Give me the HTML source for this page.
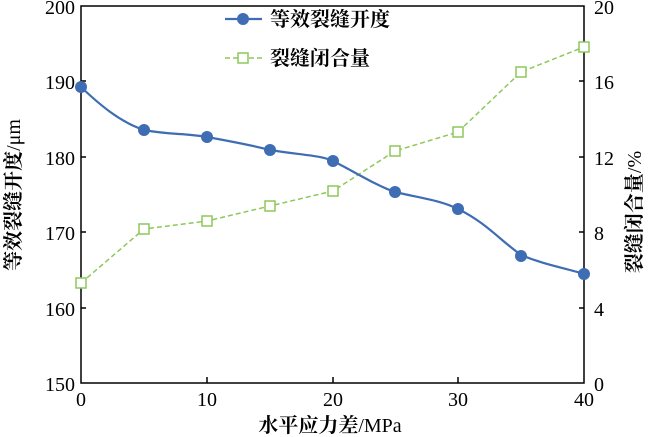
<!DOCTYPE html>
<html><head><meta charset="utf-8"><style>body{margin:0;background:#fff}svg{display:block}</style></head><body>
<svg width="650" height="437" xmlns="http://www.w3.org/2000/svg" font-family="Liberation Serif, Noto Serif CJK SC, serif">
<rect width="650" height="437" fill="#fff"/>
<g stroke="#000" stroke-width="1.5" fill="none">
<rect x="81" y="6" width="503" height="377"/>
<path d="M81,81h5M81,157h5M81,232h5M81,308h5"/>
<path d="M584,308h-5M584,232h-5M584,157h-5M584,81h-5"/>
<path d="M207,383v-6M333,383v-6M458,383v-6"/>
</g>
<g font-size="20" fill="#000" text-anchor="end">
<text x="75" y="14">200</text><text x="75" y="89">190</text><text x="75" y="165">180</text><text x="75" y="240">170</text><text x="75" y="316">160</text><text x="75" y="391">150</text>
</g>
<g font-size="20" fill="#000" text-anchor="start">
<text x="594" y="14">20</text><text x="594" y="89">16</text><text x="594" y="165">12</text><text x="594" y="240">8</text><text x="594" y="316">4</text><text x="594" y="391">0</text>
</g>
<g font-size="20" fill="#000" text-anchor="middle">
<text x="81" y="406">0</text><text x="207" y="406">10</text><text x="333" y="406">20</text><text x="458" y="406">30</text><text x="584" y="406">40</text>
</g>
<text x="330" y="432" font-size="20" text-anchor="middle"><tspan font-weight="bold">水平应力差</tspan>/MPa</text>
<text transform="translate(20,195) rotate(-90)" font-size="20" text-anchor="middle"><tspan font-weight="bold">等效裂缝开度</tspan>/μm</text>
<text transform="translate(641,212) rotate(-90)" font-size="20" text-anchor="middle"><tspan font-weight="bold">裂缝闭合量</tspan>/%</text>
<polyline fill="none" stroke="#8dc85a" stroke-width="1.5" stroke-dasharray="5,3" points="81,283 144,229 207,221 270,206 333,191 395,151 458,132 521,72 584,47"/>
<g fill="#fff" stroke="#8dc85a" stroke-width="1.5">
<rect x="76" y="278" width="10" height="10"/><rect x="139" y="224" width="10" height="10"/><rect x="202" y="216" width="10" height="10"/><rect x="265" y="201" width="10" height="10"/><rect x="328" y="186" width="10" height="10"/><rect x="390" y="146" width="10" height="10"/><rect x="453" y="127" width="10" height="10"/><rect x="516" y="67" width="10" height="10"/><rect x="579" y="42" width="10" height="10"/>
</g>
<path fill="none" stroke="#3f6db3" stroke-width="2.2" d="M81,87 C100,105 120,122 144,130 C170,135 185,133 207,137 C240,143 255,146 270,150 C300,155 320,155 333,161 C355,172 375,185 395,192 C420,198 440,200 458,209 C485,222 500,240 521,255 C545,265 565,268 584,274"/>
<g fill="#3f6db3">
<circle cx="81" cy="87" r="6"/><circle cx="144" cy="130" r="6"/><circle cx="207" cy="137" r="6"/><circle cx="270" cy="150" r="6"/><circle cx="333" cy="161" r="6"/><circle cx="395" cy="192" r="6"/><circle cx="458" cy="209" r="6"/><circle cx="521" cy="256" r="6"/><circle cx="584" cy="274" r="6"/>
</g>
<line x1="225" y1="19" x2="262" y2="19" stroke="#3f6db3" stroke-width="2.2"/><circle cx="243" cy="19" r="6" fill="#3f6db3"/>
<text x="270" y="26" font-size="20" font-weight="bold">等效裂缝开度</text>
<line x1="225" y1="58" x2="262" y2="58" stroke="#8dc85a" stroke-width="1.5" stroke-dasharray="5,3"/><rect x="238" y="53" width="10" height="10" fill="#fff" stroke="#8dc85a" stroke-width="1.5"/>
<text x="270" y="65" font-size="20" font-weight="bold">裂缝闭合量</text>
</svg>
</body></html>
